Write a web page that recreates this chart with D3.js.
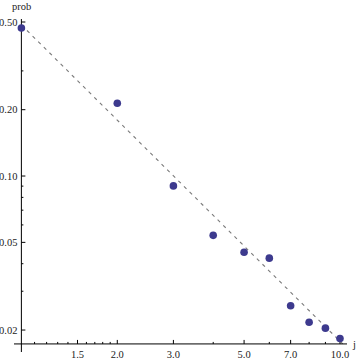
<!DOCTYPE html>
<html><head><meta charset="utf-8">
<script src="https://cdn.jsdelivr.net/npm/d3@7"></script>
<style>html,body{margin:0;padding:0;background:#fff;}svg{display:block;}</style>
</head><body>
<svg id="c" width="360" height="360"></svg>
<script>
const jValues = [1, 2, 3, 4, 5, 6, 7, 8, 9, 10];
const probValues = [0.470, 0.214, 0.0902, 0.0538, 0.0451, 0.0424, 0.0258, 0.0217, 0.0204, 0.0183];
const lineJ = [1, 10.2];
const lineProb = [0.485, 0.0173];
const xMajorTicks = [1.5, 2, 3, 5, 7, 10];
const xMinorTicks = [1.1, 1.2, 1.3, 1.4, 1.6, 1.7, 1.8, 1.9, 4, 6, 8, 9];
const yMajorTicks = [0.02, 0.05, 0.1, 0.2, 0.5];
const yMinorTicks = [0.03, 0.04, 0.06, 0.07, 0.08, 0.09, 0.3];
const xOrigin = 1, yOrigin = 0.0173;

const svg = d3.select("#c");
const x = d3.scaleLog().domain([0.948, 10.52]).range([14, 347]);
const y = d3.scaleLog().domain([0.0159, 0.516]).range([352, 19]);
const font = "'Liberation Serif', 'DejaVu Serif', serif";

const x0 = x(xOrigin), y0 = y(yOrigin);

// dashed line
const clip = svg.append("clipPath").attr("id", "pc").append("rect")
  .attr("x", 14).attr("y", 19).attr("width", 333).attr("height", y0 - 19);
svg.append("path")
  .datum(lineJ.map((d, i) => [d, lineProb[i]]))
  .attr("clip-path", "url(#pc)")
  .attr("d", d3.line().x(d => x(d[0])).y(d => y(d[1])))
  .attr("fill", "none").attr("stroke", "#7a7a7a").attr("stroke-width", 1.1)
  .attr("stroke-dasharray", "3.5,4.4");

// axes lines
svg.append("line").attr("x1", 14).attr("x2", 347).attr("y1", y0).attr("y2", y0)
  .attr("stroke", "#000").attr("stroke-width", 1);
svg.append("line").attr("x1", x0).attr("x2", x0).attr("y1", 19).attr("y2", 352)
  .attr("stroke", "#000").attr("stroke-width", 1);

// x ticks
const gx = svg.append("g");
gx.selectAll("line.maj").data(xMajorTicks).join("line")
  .attr("x1", d => x(d)).attr("x2", d => x(d)).attr("y1", y0).attr("y2", y0 - 4)
  .attr("stroke", "#000");
gx.selectAll("line.min").data(xMinorTicks).join("line").attr("class", "min")
  .attr("x1", d => x(d)).attr("x2", d => x(d)).attr("y1", y0).attr("y2", y0 - 2)
  .attr("stroke", "#000");
gx.selectAll("text").data(xMajorTicks).join("text")
  .attr("x", d => x(d)).attr("y", 357.5).attr("text-anchor", "middle")
  .attr("font-family", font).attr("font-size", 10.5).attr("fill", "#222")
  .text(d => d3.format(".1f")(d));

// y ticks
const gy = svg.append("g");
gy.selectAll("line.maj").data(yMajorTicks).join("line")
  .attr("x1", x0).attr("x2", x0 + 4).attr("y1", d => y(d)).attr("y2", d => y(d))
  .attr("stroke", "#000");
gy.selectAll("line.min").data(yMinorTicks).join("line").attr("class", "min")
  .attr("x1", x0).attr("x2", x0 + 2).attr("y1", d => y(d)).attr("y2", d => y(d))
  .attr("stroke", "#000");
gy.selectAll("text").data(yMajorTicks).join("text")
  .attr("x", x0 - 4).attr("y", d => y(d) + 3.5).attr("text-anchor", "end")
  .attr("font-family", font).attr("font-size", 10.5).attr("fill", "#222")
  .text(d => d3.format(".2f")(d));

// axis labels
svg.append("text").attr("x", 12).attr("y", 10).attr("font-family", font)
  .attr("font-size", 10.5).attr("fill", "#222").text("prob");
svg.append("text").attr("x", 353).attr("y", 348).attr("font-family", font)
  .attr("font-size", 10.5).attr("fill", "#222").text("j");

// points
svg.selectAll("circle").data(jValues.map((d, i) => [d, probValues[i]])).join("circle")
  .attr("cx", d => x(d[0])).attr("cy", d => y(d[1])).attr("r", 3.8)
  .attr("fill", "#3d3a8e");
</script>
</body></html>
